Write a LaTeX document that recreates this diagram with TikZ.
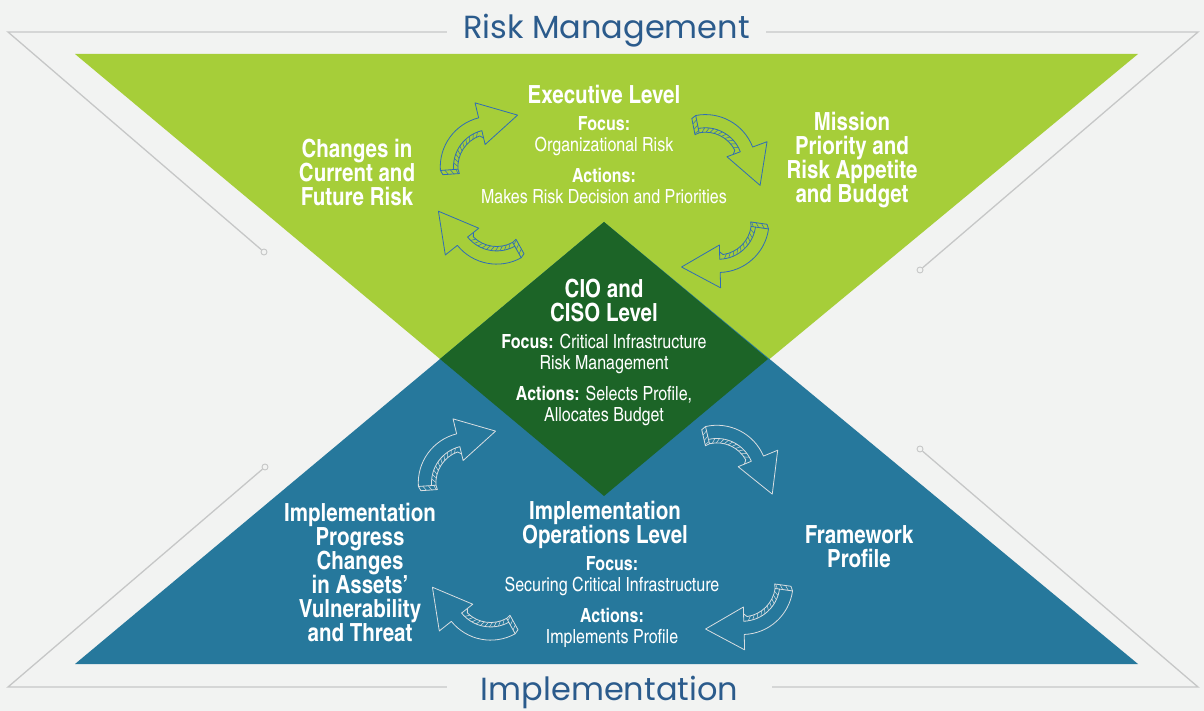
\documentclass[tikz,border=0pt]{standalone}
\usepackage{fontspec}
\newfontfamily\cnfont{texgyreheroscn}[Extension=.otf,UprightFont=*-regular,BoldFont=*-bold]
\newfontfamily\handfont{Poppins}
\definecolor{bgray}{HTML}{F2F3F2}
\definecolor{linegray}{HTML}{C6C7C7}
\definecolor{limegreen}{HTML}{A6CE39}
\definecolor{darkgreen}{HTML}{1C6427}
\definecolor{tealblue}{HTML}{26789C}
\definecolor{titleblue}{HTML}{2B5B8C}
\definecolor{penblue}{HTML}{2F6DB5}
\definecolor{penwhite}{HTML}{D9DEE1}

\tikzset{
  head/.style={text=white, align=center, inner sep=0pt, font=\cnfont\bfseries\fontsize{25}{24}\selectfont},
  body/.style={text=white, align=center, inner sep=0pt, font=\cnfont\fontsize{19.5}{21.5}\selectfont},
  banner/.style={text=titleblue, inner sep=0pt, font=\handfont\fontsize{32}{32}\selectfont},
  frame/.style={draw=linegray, line width=1.3pt},
  dot/.style={circle, draw=linegray, fill=bgray, line width=0.9pt, inner sep=0pt, minimum size=6pt}
}

% curved 3d arrow: tail at (#1,#2), turned by #3, pen colour #4
\newcommand{\cyclearrow}[4]{%
  \begin{scope}[shift={(#1,#2)}, rotate=#3, x=1.1pt, y=1.1pt, draw=#4, line width=0.8pt, line join=round]
    \draw (6,0) arc[start angle=180, end angle=100, radius=34] -- (36.2,20.7) -- (67.5,45.3) -- (29.7,59.1) -- (32,45.3) arc[start angle=100, end angle=180, radius=46] -- cycle;
    \draw (6,0) -- (10,0) arc[start angle=180, end angle=106, radius=30] -- (35.2,26.8);
    \foreach \a in {112,119,...,176}
      \draw[line width=0.5pt] ([shift={(40,0)}]\a:30) -- ([shift={(40,0)}]\a-5:34);
    \draw (-6,0) -- (-4,-4) -- (11,-4) -- (10,0);
    \draw[line width=0.5pt] (-2,0) -- (1,-4) (3,0) -- (6,-4) (8,0) -- (10,-4);
  \end{scope}}

\begin{document}
\begin{tikzpicture}[x=1pt, y=-1pt]
\useasboundingbox (0,0) rectangle (1204,711);
\fill[bgray] (0,0) rectangle (1204,711);

\fill[limegreen] (75,54) -- (1138,54) -- (604,496) -- cycle;
\fill[tealblue] (75,664) -- (1138,664) -- (604,222) -- cycle;
\fill[darkgreen] (604,222) -- (440,359) -- (604,496) -- (768,359) -- cycle;

\node[banner, minimum width=319pt] (riskmgmt) at (606.5,31) {Risk Management};
\node[banner, minimum width=325pt] (implement) at (609.5,692) {Implementation};

\coordinate (tl) at (8,32);
\coordinate (tr) at (1198,32);
\coordinate (bl) at (8,687);
\coordinate (br) at (1198,687);
\node[dot] (tldot) at (264,252) {};
\node[dot] (trdot) at (920,270) {};
\node[dot] (bldot) at (265,467) {};
\node[dot] (brdot) at (920,449) {};
\draw[frame] (tldot) -- (tl) -- (tl -| riskmgmt.west);
\draw[frame] (trdot) -- (tr) -- (tr -| riskmgmt.east);
\draw[frame] (bldot) -- (bl) -- (bl -| implement.west);
\draw[frame] (brdot) -- (br) -- (br -| implement.east);

\cyclearrow{447}{170}{4}{penblue}
\cyclearrow{697}{122}{-79}{penblue}
\cyclearrow{762}{228}{172}{penblue}
\cyclearrow{518}{252}{119}{penblue}
\cyclearrow{425}{486}{4}{penwhite}
\cyclearrow{707}{433}{-77}{penwhite}
\cyclearrow{786}{590}{172}{penwhite}
\cyclearrow{512}{628}{119}{penwhite}

\node[head] (exec) at (604,95) {Executive Level};
\node[body] (execinfo) at (604,160) {\textbf{Focus:}\\Organizational Risk\\[9pt]\textbf{Actions:}\\Makes Risk Decision and Priorities};
\node[head] (changes) at (357,172) {Changes in\\Current and\\Future Risk};
\node[head] (mission) at (852,160) {Mission\\Priority and\\Risk Appetite\\and Budget};

\node[head] (cio) at (604,301) {CIO and\\CISO Level};
\node[body] (cioinfo) at (604,380) {\textbf{Focus:} Critical Infrastructure\\Risk Management\\[9pt]\textbf{Actions:} Selects Profile,\\Allocates Budget};

\node[head] (ops) at (605,525) {Implementation\\Operations Level};
\node[body] (opsinfo) at (612,602) {\textbf{Focus:}\\Securing Critical Infrastructure\\[9pt]\textbf{Actions:}\\Implements Profile};
\node[head] (progress) at (360,573) {Implementation\\Progress\\Changes\\in Assets’\\Vulnerability\\and Threat};
\node[head] (profile) at (859,547) {Framework\\Profile};
\end{tikzpicture}
\end{document}
